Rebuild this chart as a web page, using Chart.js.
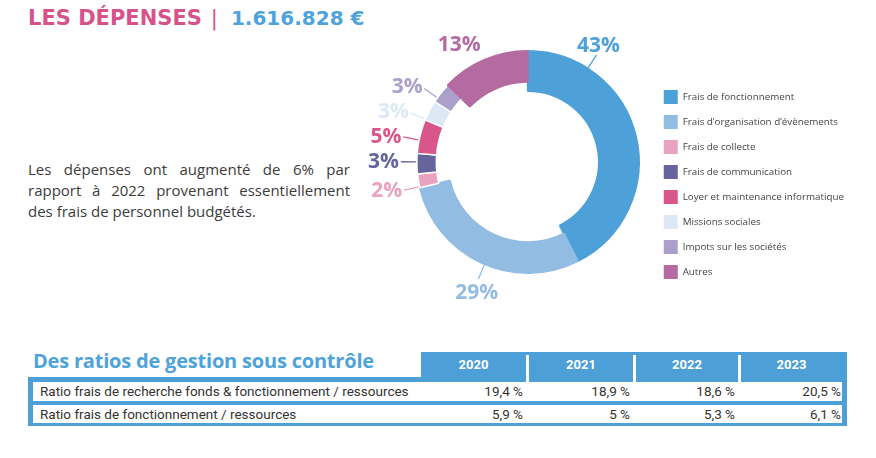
<!DOCTYPE html>
<html lang="fr">
<head>
<meta charset="utf-8">
<script src="https://cdn.jsdelivr.net/npm/chart.js@4.4.1/dist/chart.umd.min.js"></script>
<style>
  body { margin: 0; width: 876px; height: 458px; background: #fff; position: relative; overflow: hidden; }
  #titre { position: absolute; left: 28px; top: 3px; font: bold 21px "DejaVu Sans"; white-space: nowrap; line-height: 30px; }
  #titre .rose { color: #d6538a; }
  #titre .sep { color: #d6538a; font-weight: normal; margin: 0 13px 0 9px; }
  #titre .bleu { color: #4fa3db; font-size: 20px; }
  #texte { position: absolute; left: 28px; top: 159px; width: 322px; font: 15px "Open Sans"; line-height: 21px; color: #3c3c3c; }
  #texte span { display: block; text-align: justify; text-align-last: justify; }
  #texte span:last-child { text-align-last: left; }
  #zone { position: absolute; left: 330px; top: 0; width: 546px; height: 330px; }
  #ratios-titre { position: absolute; left: 33px; top: 348px; font: bold 20px "Open Sans"; color: #4fa3db; line-height: 26px; white-space: nowrap; letter-spacing: -0.2px; }
  .bloc { position: absolute; background: #4d9fd7; }
  .blanc { position: absolute; background: #fff; }
  .txt { position: absolute; font: 13.5px Roboto; color: #333; white-space: nowrap; line-height: 19px; }
  .an { position: absolute; font: bold 13px Roboto; color: #fff; text-align: center; line-height: 26px; }
</style>
</head>
<body>
<div id="titre"><span class="rose">LES DÉPENSES</span><span class="sep">|</span><span class="bleu">1.616.828 €</span></div>
<div id="texte">
  <span>Les dépenses ont augmenté de 6% par</span>
  <span>rapport à 2022 provenant essentiellement</span>
  <span>des frais de personnel budgétés.</span>
</div>
<div id="zone"><canvas id="donut"></canvas></div>
<div id="ratios-titre">Des ratios de gestion sous contrôle</div>
<div id="tableau"></div>

<script>
// répartition des dépenses (en %)
const categories = [
  'Frais de fonctionnement',
  'Frais d’organisation d’évènements',
  'Frais de collecte',
  'Frais de communication',
  'Loyer et maintenance informatique',
  'Missions sociales',
  'Impots sur les sociétés',
  'Autres'
];
const shares = [43, 29, 2, 3, 5, 3, 3, 13];
const colors = ['#4ea1d8', '#93bce3', '#e9a3c1', '#66649c', '#d9568a', '#dde8f6', '#ab9fcc', '#b46ba1'];

// tableau des ratios
const years = ['2020', '2021', '2022', '2023'];
const ratioNames = [
  'Ratio frais de recherche fonds & fonctionnement / ressources',
  'Ratio frais de fonctionnement / ressources'
];
const ratioRecherche = [19.4, 18.9, 18.6, 20.5];
const ratioFonctionnement = [5.9, 5, 5.3, 6.1];

// épaisseur de chaque part : nombre d'anneaux remplis (de l'extérieur vers l'intérieur)
const ringDepth = [3, 2, 1, 1, 1, 1, 1, 2];
const ringWeights = [19, 11, 9];
const transparent = 'rgba(0,0,0,0)';

const datasets = ringWeights.map((w, r) => ({
  data: shares,
  weight: w,
  backgroundColor: colors.map((c, i) => ringDepth[i] > r ? c : transparent),
  borderColor: colors.map((c, i) => {
    if (ringDepth[i] <= r) return transparent;
    return (r === 0 && ringDepth[i] === 1) ? '#fff' : c;
  }),
  // les bords de même couleur recouvrent les jointures entre anneaux
  borderWidth: ringDepth.map(d => (r === 0 && d === 1) ? 1.5 : 2)
}));

// étiquettes en % autour de l'anneau
const pctLabels = {
  id: 'pctLabels',
  afterDatasetsDraw(chart, args, opts) {
    const ctx = chart.ctx;
    const arcs = chart.getDatasetMeta(0).data;
    ctx.save();
    ctx.font = 'bold 21px "Open Sans"';
    ctx.lineWidth = 1.3;
    arcs.forEach((arc, i) => {
      const p = arc.getProps(['x', 'y', 'startAngle', 'endAngle', 'outerRadius'], true);
      const a = (p.startAngle + p.endAngle) / 2 + opts.shift[i] * Math.PI / 180;
      const cos = Math.cos(a), sin = Math.sin(a);
      ctx.strokeStyle = colors[i];
      ctx.fillStyle = colors[i];
      if (opts.leader[i]) {
        ctx.beginPath();
        ctx.moveTo(p.x + cos * (p.outerRadius + 1), p.y + sin * (p.outerRadius + 1));
        ctx.lineTo(p.x + cos * (p.outerRadius + 16), p.y + sin * (p.outerRadius + 16));
        ctx.stroke();
      }
      if (Math.abs(cos) > 0.7) {
        const r = p.outerRadius + 18;
        ctx.textAlign = cos < 0 ? 'right' : 'left';
        ctx.textBaseline = 'middle';
        ctx.fillText(shares[i] + '%', p.x + cos * r, p.y + sin * r);
      } else {
        const r = p.outerRadius + 20;
        ctx.textAlign = 'center';
        ctx.textBaseline = sin < 0 ? 'alphabetic' : 'top';
        ctx.fillText(shares[i] + '%', p.x + cos * r, p.y + sin * r);
      }
    });
    ctx.restore();
  }
};

new Chart(document.getElementById('donut'), {
  type: 'doughnut',
  data: { labels: categories, datasets: datasets },
  options: {
    responsive: true,
    maintainAspectRatio: false,
    animation: false,
    events: [],
    radius: 111,
    cutout: '64%',
    layout: { padding: { left: 73, right: 22, top: 20, bottom: 26 } },
    plugins: {
      tooltip: { enabled: false },
      legend: {
        position: 'right',
        align: 'center',
        title: { display: true, text: '', padding: { top: 33, bottom: 0 }, font: { size: 10 } },
        labels: {
          boxWidth: 14,
          boxHeight: 14,
          padding: 11,
          color: '#444',
          font: { family: '"Open Sans"', size: 9.8 },
          generateLabels(chart) {
            const items = Chart.overrides.doughnut.plugins.legend.labels.generateLabels(chart);
            return items.map(it => Object.assign(it, { lineWidth: 0, strokeStyle: it.fillStyle }));
          }
        }
      },
      pctLabels: {
        shift: [-44, -2, -3, 1, -2, -5, -3, -8.5],
        leader: [true, true, true, true, true, true, true, false]
      }
    }
  },
  plugins: [pctLabels]
});

// tableau
const tableau = document.getElementById('tableau');
function box(cls, left, top, width, height, text) {
  const d = document.createElement('div');
  d.className = cls;
  Object.assign(d.style, { left: left + 'px', top: top + 'px', width: width + 'px', height: height + 'px' });
  if (text !== undefined) d.textContent = text;
  tableau.appendChild(d);
  return d;
}
function fmt(v) {
  return String(v).replace('.', ',') + ' %';
}

const colStarts = [421, 529, 636, 741];
const colEnds = [526, 633, 738, 842];

box('bloc', 421, 352, 426, 30);
box('bloc', 28, 377, 819, 49);
colEnds.slice(0, 3).forEach(x => box('blanc', x, 355, 3, 27));
years.forEach((y, j) => box('an', colStarts[j], 352, colEnds[j] - colStarts[j], 26, y));

const rowTops = [382, 405];
const rowHeights = [19, 18];
[ratioRecherche, ratioFonctionnement].forEach((vals, k) => {
  box('blanc', 33, rowTops[k], 809, rowHeights[k]);
  box('txt', 40, rowTops[k], 380, rowHeights[k], ratioNames[k]);
  vals.forEach((v, j) => {
    const d = box('txt', colStarts[j], rowTops[k], colEnds[j] - colStarts[j] - (j === 3 ? 1 : 3), rowHeights[k], fmt(v));
    d.style.textAlign = 'right';
  });
});
</script>
</body>
</html>
